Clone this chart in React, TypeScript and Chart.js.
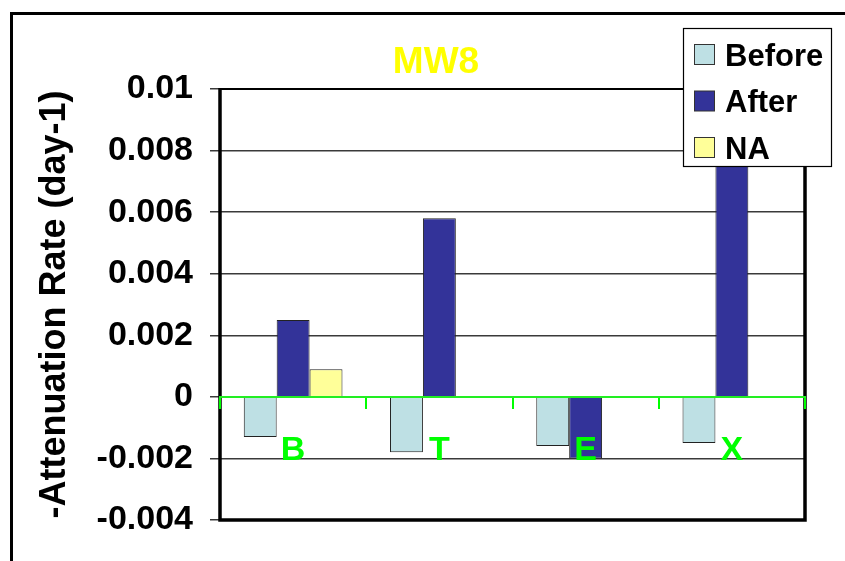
import React, { useEffect, useRef } from "react";
import { Chart, registerables } from "chart.js";

Chart.register(...registerables);

const categories = ["B", "T", "E", "X"];
const beforeValues = [-0.0013, -0.0018, -0.0016, -0.0015];
const afterValues = [0.0025, 0.0058, -0.002, 0.0078];
const naValues: (number | null)[] = [0.0009, null, null, null];
const yTickValues = [-0.004, -0.002, 0, 0.002, 0.004, 0.006, 0.008, 0.01];
const chartTitle = "MW8";
const yAxisTitle = "-Attenuation Rate (day-1)";
const seriesNames = ["Before", "After", "NA"];
const seriesColors = ["#BEE0E4", "#333399", "#FFFF99"];

const FONT = "'Liberation Sans', Arial, Helvetica, sans-serif";
const CW = 872;
const CH = 580;

const decorPlugin = {
  id: "decor",
  beforeDraw(chart: any) {
    const ctx = chart.ctx;
    ctx.save();
    ctx.fillStyle = "#ffffff";
    ctx.fillRect(0, 0, chart.width, chart.height);
    ctx.strokeStyle = "#000000";
    ctx.lineWidth = 3;
    ctx.strokeRect(11.5, 13.5, chart.width - 23, chart.height - 20);
    ctx.restore();
  },
  afterDatasetsDraw(chart: any) {
    const { ctx, chartArea: a } = chart;
    ctx.save();
    ctx.strokeStyle = "#000000";
    ctx.lineWidth = 2;
    ctx.beginPath();
    ctx.moveTo(a.left, a.top);
    ctx.lineTo(a.right, a.top);
    ctx.stroke();
    ctx.lineWidth = 3.5;
    ctx.beginPath();
    ctx.moveTo(a.left, a.top - 1);
    ctx.lineTo(a.left, a.bottom);
    ctx.lineTo(a.right, a.bottom);
    ctx.lineTo(a.right, a.top - 1);
    ctx.stroke();
    ctx.restore();
  },
  afterDraw(chart: any) {
    const ctx = chart.ctx;
    ctx.save();
    // title
    ctx.fillStyle = "#FFFF00";
    ctx.font = `bold 37px ${FONT}`;
    ctx.textAlign = "center";
    ctx.textBaseline = "alphabetic";
    ctx.fillText(chartTitle, chart.width / 2, 72.5);
    // legend
    const lx = 683.5, ly = 28.5, lw = 148, lh = 138;
    ctx.fillStyle = "#ffffff";
    ctx.fillRect(lx, ly, lw, lh);
    ctx.strokeStyle = "#000000";
    ctx.lineWidth = 1.2;
    ctx.strokeRect(lx, ly, lw, lh);
    ctx.font = `bold 31px ${FONT}`;
    ctx.textAlign = "left";
    chart.data.datasets.forEach((ds: any, i: number) => {
      const sy = 44 + i * 46.5;
      ctx.fillStyle = ds.backgroundColor;
      ctx.fillRect(694.5, sy + 0.5, 20, 20);
      ctx.strokeStyle = "#333333";
      ctx.lineWidth = 1;
      ctx.strokeRect(694.5, sy + 0.5, 20, 20);
      ctx.fillStyle = "#000000";
      ctx.fillText(ds.label, 725, sy + 21.5);
    });
    ctx.restore();
  },
};

export default function App() {
  const ref = useRef<HTMLCanvasElement | null>(null);
  useEffect(() => {
    if (!ref.current) return;
    const mk = (i: number, data: (number | null)[]) => ({
      label: seriesNames[i],
      data,
      backgroundColor: seriesColors[i],
      borderColor: "#222222",
      borderWidth: 1,
      categoryPercentage: 0.675,
      barPercentage: 1,
    });
    const chart = new Chart(ref.current, {
      type: "bar",
      data: {
        labels: categories,
        datasets: [mk(0, beforeValues), mk(1, afterValues), mk(2, naValues)],
      },
      options: {
        responsive: false,
        animation: false,
        layout: { padding: { left: 0, top: 89, right: 67, bottom: 60 } },
        plugins: {
          legend: { display: false },
          title: { display: false },
          tooltip: { enabled: false },
        },
        scales: {
          x: {
            position: { y: 0 } as any,
            offset: true,
            grid: {
              display: true,
              drawOnChartArea: false,
              drawTicks: true,
              tickLength: 11,
              color: "#00ff00",
              lineWidth: 2,
              offset: true,
              z: 1,
            },
            border: { display: true, color: "#22ee22", width: 2, z: 1 },
            ticks: {
              color: "#00ff00",
              font: { size: 34, weight: "bold", family: FONT },
              padding: 22,
              maxRotation: 0,
              autoSkip: false,
              z: 1,
            },
          },
          y: {
            min: -0.004,
            max: 0.01,
            afterBuildTicks: (s: any) => {
              s.ticks = yTickValues.map((v) => ({ value: v }));
            },
            afterFit: (s: any) => {
              s.width = 220;
            },
            grid: { color: "#3a3a3a", lineWidth: 1.5, tickLength: 10, drawTicks: true },
            border: { display: false },
            ticks: {
              color: "#000000",
              font: { size: 34, weight: "bold", family: FONT },
              padding: 17,
              callback: (v: any) => String(parseFloat(Number(v).toFixed(4))),
            },
            title: {
              display: true,
              text: yAxisTitle,
              color: "#000000",
              font: { size: 36, weight: "bold", family: FONT },
              padding: { top: 33, bottom: 0 },
            },
          },
        },
      },
      plugins: [decorPlugin],
    });
    return () => chart.destroy();
  }, []);
  return (
    <div
      style={{
        position: "fixed",
        left: 0,
        top: 0,
        width: 845,
        height: 561,
        overflow: "hidden",
        background: "#fff",
      }}
    >
      <canvas ref={ref} width={CW} height={CH} style={{ width: CW, height: CH, display: "block" }} />
    </div>
  );
}
